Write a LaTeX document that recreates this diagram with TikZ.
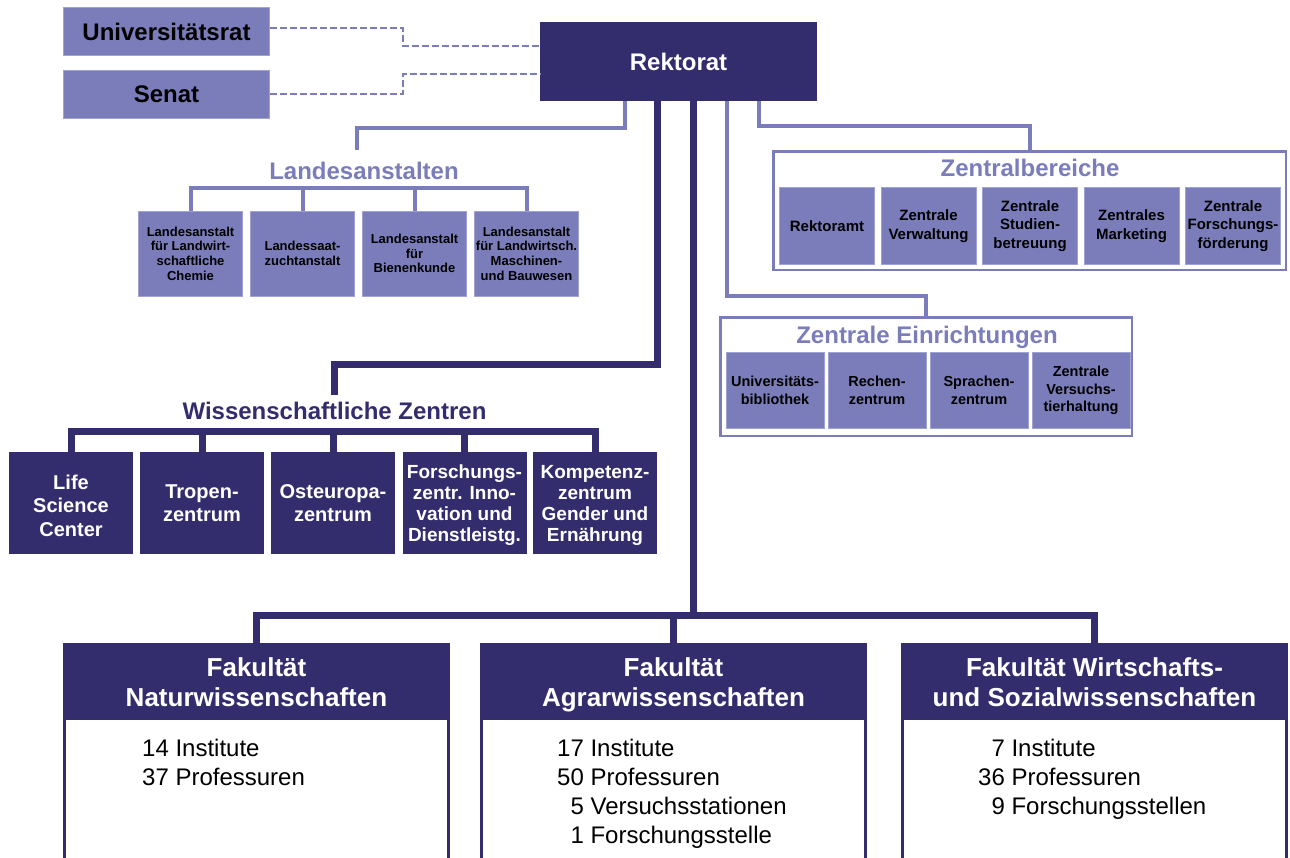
\documentclass[tikz,border=0pt]{standalone}
\usepackage{fontspec}
\setmainfont{Liberation Sans}
\definecolor{uhdark}{RGB}{51,45,110}
\definecolor{uhlight}{RGB}{123,125,187}
\definecolor{uhframe}{RGB}{160,162,212}

\begin{document}
\begin{tikzpicture}[
  x=1pt, y=1pt,
  every node/.style={inner sep=0pt, align=center, font=\bfseries},
  gremium/.style={fill=uhlight, draw=uhframe, line width=1pt, minimum width=206pt, minimum height=48pt, font=\fontsize{24}{28}\selectfont\bfseries},
  leitung/.style={fill=uhdark, text=white, minimum width=277pt, minimum height=79pt, font=\fontsize{24}{28}\selectfont\bfseries},
  anstalt/.style={fill=uhlight, draw=uhframe, line width=1pt, minimum width=104pt, minimum height=85pt, font=\fontsize{13}{14.7}\selectfont\bfseries},
  bereich/.style={fill=uhlight, draw=uhframe, line width=1pt, minimum width=95pt, minimum height=77pt, font=\fontsize{15}{18.5}\selectfont\bfseries},
  einrichtung/.style={bereich, minimum width=98pt, minimum height=76pt, font=\fontsize{14.5}{17.5}\selectfont\bfseries},
  zentrum/.style={fill=uhdark, text=white, minimum width=124pt, minimum height=102pt, font=\fontsize{20}{23.5}\selectfont\bfseries},
  zentrumklein/.style={zentrum, font=\fontsize{19}{21}\selectfont\bfseries},
  gruppe/.style={draw=uhlight, line width=2.5pt, fill=white},
  titel/.style={anchor=base, text height=17.5pt, text depth=5pt, font=\fontsize{24}{28}\selectfont\bfseries},
  fakkopf/.style={fill=uhdark, draw=uhdark, line width=3pt, text=white, minimum width=384pt, minimum height=72pt, font=\fontsize{26}{30}\selectfont\bfseries},
  fakrumpf/.style={fill=white, draw=uhdark, line width=3pt, minimum width=384pt, minimum height=152pt},
  fakzahlen/.style={anchor=north west, font=\fontsize{24}{29}\selectfont},
  hell/.style={draw=uhlight, line width=4pt},
  dunkel/.style={draw=uhdark, line width=7pt},
  gestrichelt/.style={draw=uhlight, line width=2pt, dash pattern=on 7pt off 3pt}
]
\useasboundingbox (0,0) rectangle (1290,-857);
\clip (0,0) rectangle (1290,-857);

\node[gremium] (ur) at (166.5,-31.5) {Universitätsrat};
\node[gremium] (senat) at (166.5,-94.5) {Senat};
\node[leitung] (rek) at (678.5,-61.5) {Rektorat};

\node[titel, text=uhlight] (la) at (364,-179) {Landesanstalten};
\node[anstalt] (la1) at (190.5,-253.5) {Landesanstalt\\für Landwirt-\\schaftliche\\Chemie};
\node[anstalt] (la2) at (302.5,-253.5) {Landessaat-\\zuchtanstalt};
\node[anstalt] (la3) at (414.5,-253.5) {Landesanstalt\\für\\Bienenkunde};
\node[anstalt] (la4) at (526.5,-253.5) {Landesanstalt\\für Landwirtsch.\\Maschinen-\\und Bauwesen};

\node[gruppe, minimum width=512.5pt, minimum height=118.5pt] (zb) at (1029.5,-210.5) {};
\node[titel, text=uhlight] (zbt) at (1030,-176) {Zentralbereiche};
\node[bereich] (zb1) at (827,-226) {Rektoramt};
\node[bereich] (zb2) at (928.5,-226) {Zentrale\\Verwaltung};
\node[bereich] (zb3) at (1030,-226) {Zentrale\\Studien-\\betreuung};
\node[bereich] (zb4) at (1131.5,-226) {Zentrales\\Marketing};
\node[bereich] (zb5) at (1233,-226) {Zentrale\\Forschungs-\\förderung};

\node[gruppe, minimum width=411.5pt, minimum height=118.5pt] (ze) at (926,-376.5) {};
\node[titel, text=uhlight] (zet) at (927,-343) {Zentrale Einrichtungen};
\node[einrichtung] (ze1) at (775,-390.5) {Universitäts-\\bibliothek};
\node[einrichtung] (ze2) at (877,-390.5) {Rechen-\\zentrum};
\node[einrichtung] (ze3) at (979,-390.5) {Sprachen-\\zentrum};
\node[einrichtung] (ze4) at (1081,-390.5) {Zentrale\\Versuchs-\\tierhaltung};

\node[titel, text=uhdark] (wz) at (334.5,-419) {Wissenschaftliche Zentren};
\node[zentrum] (wz1) at (71,-503) {\rule{0pt}{20pt}Life\\Science\\Center};
\node[zentrum] (wz2) at (202,-503) {Tropen-\\zentrum};
\node[zentrum] (wz3) at (333,-503) {Osteuropa-\\zentrum};
\node[zentrumklein] (wz4) at (464.5,-503) {\rule{0pt}{19pt}Forschungs-\\zentr. Inno-\\vation und\\Dienstleistg.};
\node[zentrumklein] (wz5) at (595,-503) {\rule{0pt}{19pt}Kompetenz-\\zentrum\\Gender und\\Ernährung\vphantom{g}};

\node[fakrumpf] (fr1) at (256.5,-794) {};
\node[fakrumpf] (fr2) at (673.5,-794) {};
\node[fakrumpf] (fr3) at (1094.5,-794) {};
\node[fakkopf] (fk1) at (256.5,-680.5) {\rule{0pt}{27pt}Fakultät\\Naturwissenschaften\vphantom{g}};
\node[fakkopf] (fk2) at (673.5,-680.5) {\rule{0pt}{27pt}Fakultät\\Agrarwissenschaften};
\node[fakkopf] (fk3) at (1094.5,-680.5) {\rule{0pt}{27pt}Fakultät Wirtschafts-\\und Sozialwissenschaften\vphantom{g}};
\node[fakzahlen] (fz1) at (142,-736) {\begin{tabular}{@{}r@{ }l@{}}14 & Institute\\37 & Professuren\end{tabular}};
\node[fakzahlen] (fz2) at (557,-736) {\begin{tabular}{@{}r@{ }l@{}}17 & Institute\\50 & Professuren\\5 & Versuchsstationen\\1 & Forschungsstelle\end{tabular}};
\node[fakzahlen] (fz3) at (978,-736) {\begin{tabular}{@{}r@{ }l@{}}7 & Institute\\36 & Professuren\\9 & Forschungsstellen\end{tabular}};

\draw[gestrichelt] ([yshift=4pt]ur.east) -- ++(133,0) |- ([yshift=15.5pt]rek.west);
\draw[gestrichelt] ([yshift=0.5pt]senat.east) -- ++(133,0) |- ([yshift=-12pt]rek.west);

\draw[hell] ([xshift=-53.5pt]rek.south) |- ([shift={(-7pt,33.5pt)}]la.north) -- ([shift={(-7pt,11.5pt)}]la.north);
\draw[hell] (la1.north) -- ++(0,23) -| (la4.north);
\foreach \n in {la2,la3}
  \draw[hell] (\n.north) -- ++(0,23);

\draw[hell] ([xshift=80.5pt]rek.south) |- ([yshift=24pt]zb.north) -- (zb.north);
\draw[hell] ([xshift=48.5pt]rek.south) |- ([yshift=20pt]ze.north) -- (ze.north);

\draw[dunkel] ([xshift=-21.5pt]rek.south) |- ([yshift=36.5pt]wz.north) -- ([yshift=6pt]wz.north);
\draw[dunkel] (wz1.north) -- ++(0,20) -| (wz5.north);
\foreach \n in {wz2,wz3,wz4}
  \draw[dunkel] (\n.north) -- ++(0,20);

\draw[dunkel] ([xshift=14.5pt]rek.south) |- ([yshift=28pt]fk2.north);
\draw[dunkel] (fk1.north) -- ++(0,28) -| (fk3.north);
\draw[dunkel] (fk2.north) -- ++(0,28);
\end{tikzpicture}
\end{document}
